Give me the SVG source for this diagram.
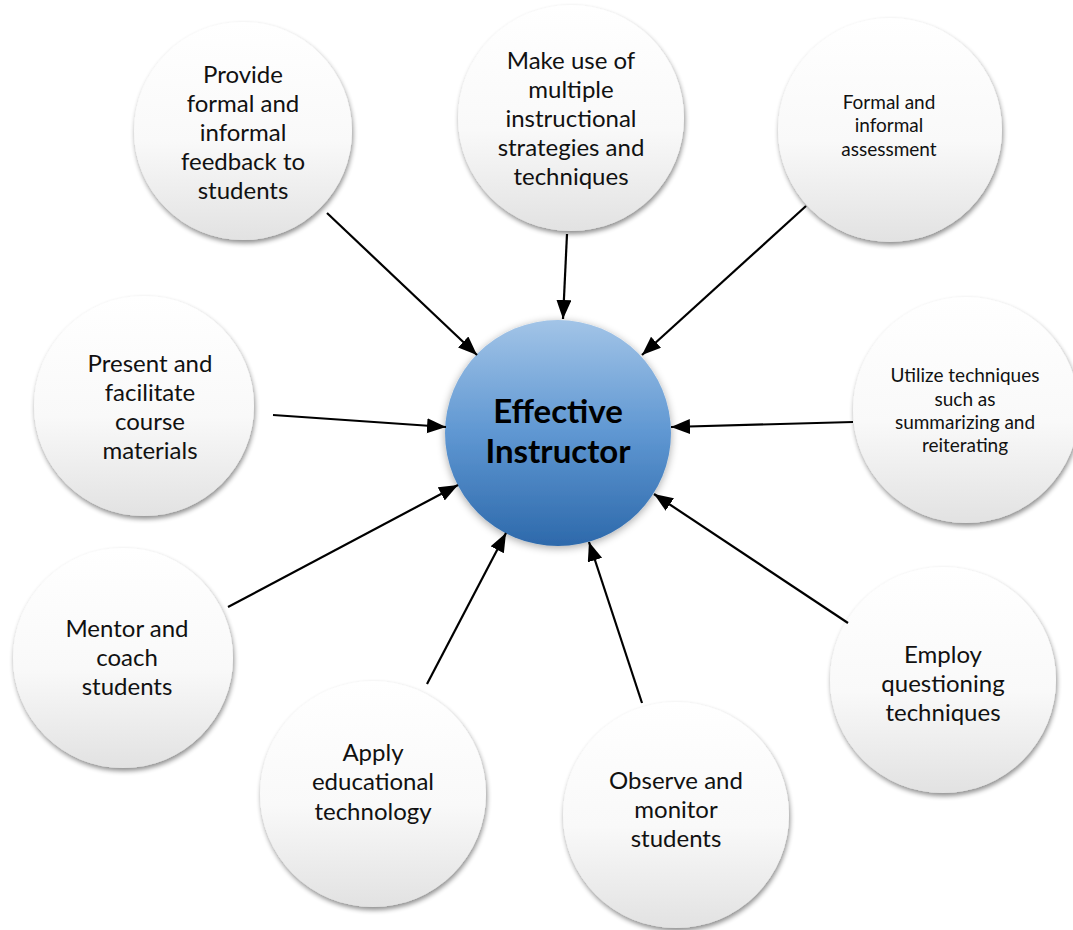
<svg xmlns="http://www.w3.org/2000/svg" width="1073" height="930" viewBox="0 0 1073 930">
  <defs>
    <linearGradient id="bubbleFill" x1="0" y1="0" x2="0" y2="1">
      <stop offset="0" stop-color="#ffffff"/>
      <stop offset="0.55" stop-color="#f9f9f9"/>
      <stop offset="1" stop-color="#e2e2e2"/>
    </linearGradient>
    <linearGradient id="hubFill" x1="0" y1="0" x2="0" y2="1">
      <stop offset="0" stop-color="#a2c4e7"/>
      <stop offset="0.5" stop-color="#5f97d2"/>
      <stop offset="1" stop-color="#2d69ab"/>
    </linearGradient>
    <filter id="bubbleShadow" x="-20%" y="-20%" width="140%" height="145%">
      <feGaussianBlur in="SourceAlpha" stdDeviation="2.5"/>
      <feOffset dx="1" dy="3" result="blur"/>
      <feComponentTransfer><feFuncA type="linear" slope="0.45"/></feComponentTransfer>
      <feMerge><feMergeNode/><feMergeNode in="SourceGraphic"/></feMerge>
    </filter>
    <filter id="hubGlow" x="-20%" y="-20%" width="140%" height="140%">
      <feGaussianBlur in="SourceAlpha" stdDeviation="4"/>
      <feOffset dx="0" dy="2"/>
      <feComponentTransfer><feFuncA type="linear" slope="0.35"/></feComponentTransfer>
      <feMerge><feMergeNode/><feMergeNode in="SourceGraphic"/></feMerge>
    </filter>
    <marker id="head" markerUnits="userSpaceOnUse" markerWidth="20" markerHeight="16" refX="19" refY="7.5" orient="auto">
      <path d="M0,0 L19,7.5 L0,15 z" fill="#000"/>
    </marker>
  </defs>
  <style>
    .bubble { fill: url(#bubbleFill); filter: url(#bubbleShadow); }
    .hub { fill: url(#hubFill); filter: url(#hubGlow); }
    .lbl { font-family: Lato, "Open Sans", "Liberation Sans", sans-serif; font-size: 24px; fill: #111; text-anchor: middle; }
    .lbl.sm { font-size: 19px; }
    .lbl.hubtxt { font-size: 33px; font-weight: bold; fill: #000; }
    .link { stroke: #000; stroke-width: 2.2; fill: none; marker-end: url(#head); }
  </style>

  <rect width="1073" height="930" fill="#ffffff"/>

  <g id="node-feedback">
    <circle class="bubble" cx="243" cy="131" r="109"/>
    <text class="lbl" x="243" y="83">Provide</text>
    <text class="lbl" x="243" y="112">formal and</text>
    <text class="lbl" x="243" y="141">informal</text>
    <text class="lbl" x="243" y="170">feedback to</text>
    <text class="lbl" x="243" y="199">students</text>
  </g>

  <g id="node-strategies">
    <circle class="bubble" cx="571" cy="118" r="113"/>
    <text class="lbl" x="571" y="69">Make use of</text>
    <text class="lbl" x="571" y="98">multiple</text>
    <text class="lbl" x="571" y="127">instructional</text>
    <text class="lbl" x="571" y="156">strategies and</text>
    <text class="lbl" x="571" y="185">techniques</text>
  </g>

  <g id="node-assessment">
    <circle class="bubble" cx="890" cy="130" r="112"/>
    <text class="lbl sm" x="889" y="109">Formal and</text>
    <text class="lbl sm" x="889" y="132">informal</text>
    <text class="lbl sm" x="889" y="156">assessment</text>
  </g>

  <g id="node-summarizing">
    <circle class="bubble" cx="966" cy="410" r="113"/>
    <text class="lbl sm" x="965" y="382">Utilize techniques</text>
    <text class="lbl sm" x="965" y="406">such as</text>
    <text class="lbl sm" x="965" y="429">summarizing and</text>
    <text class="lbl sm" x="965" y="452">reiterating</text>
  </g>

  <g id="node-questioning">
    <circle class="bubble" cx="943" cy="680" r="113"/>
    <text class="lbl" x="943" y="663">Employ</text>
    <text class="lbl" x="943" y="692">questioning</text>
    <text class="lbl" x="943" y="721">techniques</text>
  </g>

  <g id="node-observe">
    <circle class="bubble" cx="676" cy="815" r="113"/>
    <text class="lbl" x="676" y="789">Observe and</text>
    <text class="lbl" x="676" y="818">monitor</text>
    <text class="lbl" x="676" y="847">students</text>
  </g>

  <g id="node-technology">
    <circle class="bubble" cx="373" cy="794" r="113"/>
    <text class="lbl" x="373" y="761">Apply</text>
    <text class="lbl" x="373" y="790">educational</text>
    <text class="lbl" x="373" y="820">technology</text>
  </g>

  <g id="node-mentor">
    <circle class="bubble" cx="123" cy="658" r="110"/>
    <text class="lbl" x="127" y="637">Mentor and</text>
    <text class="lbl" x="127" y="666">coach</text>
    <text class="lbl" x="127" y="695">students</text>
  </g>

  <g id="node-present">
    <circle class="bubble" cx="144" cy="406" r="110"/>
    <text class="lbl" x="150" y="372">Present and</text>
    <text class="lbl" x="150" y="401">facilitate</text>
    <text class="lbl" x="150" y="430">course</text>
    <text class="lbl" x="150" y="459">materials</text>
  </g>

  <g id="node-hub">
    <circle class="hub" cx="558" cy="433" r="113"/>
    <text class="lbl hubtxt" x="558" y="423">Effective</text>
    <text class="lbl hubtxt" x="558" y="463">Instructor</text>
  </g>

  <g id="connectors">
    <line class="link" x1="327" y1="213" x2="477" y2="355"/>
    <line class="link" x1="567" y1="234" x2="563" y2="319"/>
    <line class="link" x1="806" y1="206" x2="642" y2="355"/>
    <line class="link" x1="853" y1="422" x2="671" y2="427"/>
    <line class="link" x1="848" y1="623" x2="654" y2="494"/>
    <line class="link" x1="642" y1="703" x2="589" y2="542"/>
    <line class="link" x1="427" y1="684" x2="506" y2="533"/>
    <line class="link" x1="228" y1="607" x2="458" y2="485"/>
    <line class="link" x1="273" y1="415" x2="446" y2="427"/>
  </g>
</svg>
